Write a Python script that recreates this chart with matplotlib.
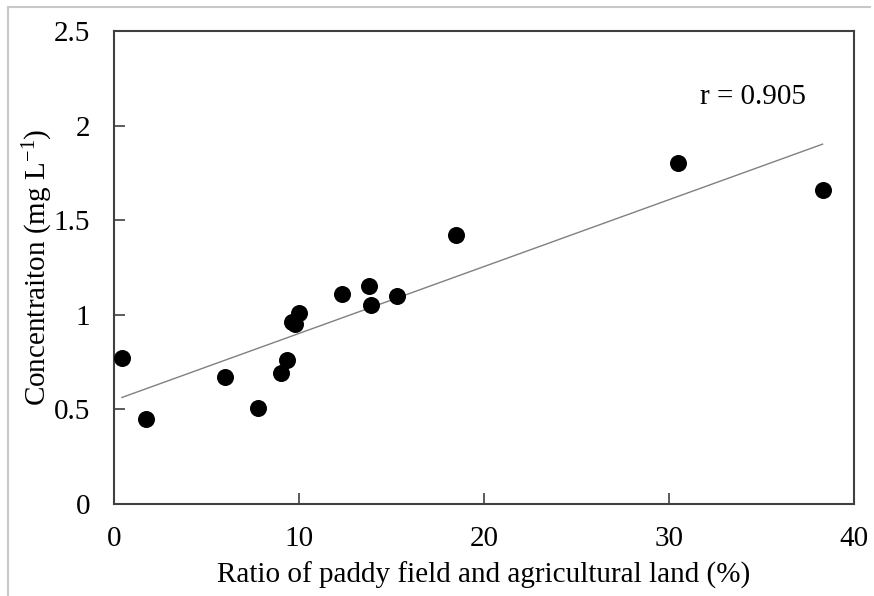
import numpy as np
import matplotlib
matplotlib.use("Agg")
import matplotlib.pyplot as plt
from matplotlib.lines import Line2D

plt.rcParams['font.family'] = ['Liberation Serif', 'DejaVu Serif']
plt.rcParams['mathtext.fontset'] = 'custom'
plt.rcParams['mathtext.rm'] = 'Liberation Serif'
plt.rcParams['mathtext.it'] = 'Liberation Serif:italic'

# ratio of paddy field and agricultural land (%)
ratio = [0.43, 1.73, 6.0, 7.8, 9.0, 9.35, 9.6, 9.8, 10.0,
         12.3, 13.8, 13.9, 15.3, 18.5, 30.5, 38.3]
# concentration (mg/L)
conc = [0.77, 0.45, 0.67, 0.51, 0.69, 0.76, 0.96, 0.95, 1.01,
        1.11, 1.15, 1.05, 1.10, 1.42, 1.80, 1.66]
r_text = "r = 0.905"

x = np.array(ratio)
y = np.array(conc)
slope, intercept = np.polyfit(x, y, 1)
xfit = np.array([x.min(), x.max()])

fig = plt.figure(figsize=(8.74, 5.96), dpi=100)
ax = fig.add_axes([114 / 874, 1 - 504 / 596, 740 / 874, 473 / 596])

ax.plot(xfit, slope * xfit + intercept, color='#808080', linewidth=1.0, zorder=2)
ax.scatter(x, y, s=150, color='black', zorder=3, linewidths=0)

ax.set_xlim(0, 40)
ax.set_ylim(0, 2.5)
ax.set_xticks([0, 10, 20, 30, 40])
ax.set_yticks([0, 0.5, 1, 1.5, 2, 2.5])
ax.set_yticklabels(['0', '0.5', '1', '1.5', '2', '2.5'])
ax.tick_params(direction='in', length=8, width=1.2, color='#404040',
               labelsize=21)
ax.tick_params(axis='x', pad=16)
ax.tick_params(axis='y', pad=17)
for sp in ax.spines.values():
    sp.set_color('#404040')
    sp.set_linewidth(1.5)

ax.set_xlabel("Ratio of paddy field and agricultural land (%)", fontsize=21, labelpad=7)
ax.set_ylabel("Concentraiton (mg L$^{\\mathregular{-1}}$)", fontsize=21, labelpad=-1)
ax.text(0.792, 0.845, r_text, transform=ax.transAxes, fontsize=21)

# light frame of the source image
fig.add_artist(Line2D([8 / 874, 8 / 874], [0, 1 - 7 / 596], color='#c8c8c8', linewidth=1.5))
fig.add_artist(Line2D([8 / 874, 870 / 874], [1 - 7 / 596, 1 - 7 / 596], color='#c8c8c8', linewidth=1.5))

fig.savefig("out.png", dpi=100)
